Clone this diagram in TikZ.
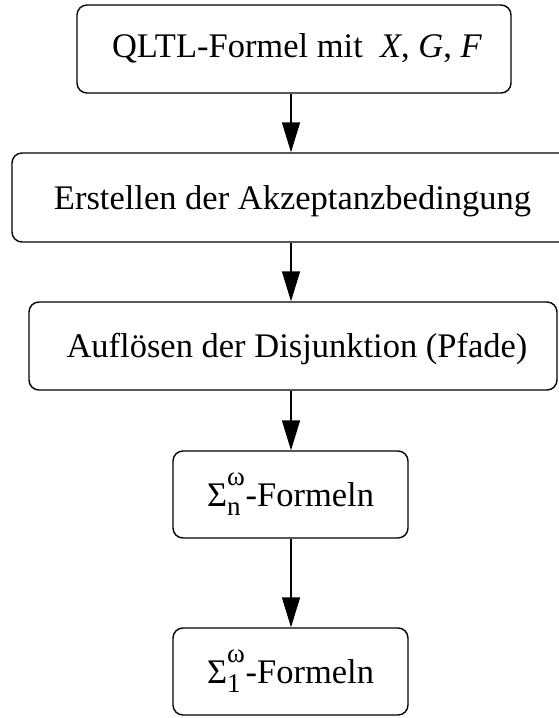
\documentclass[tikz,border=0pt]{standalone}
\usepackage{fontspec}
\setmainfont{Liberation Serif}
\usetikzlibrary{arrows.meta}
% Sigma with a raised omega and a lowered index
\newcommand{\sigmaidx}[1]{Σ\rlap{\smash{\raisebox{21pt}{\fontsize{27}{29}\selectfont ω}}}\smash{\raisebox{-9pt}{\fontsize{27}{29}\selectfont #1}}\hspace*{5pt}}
\begin{document}
\begin{tikzpicture}[x=1pt,y=-1pt,
  stage/.style={draw, line width=1.4pt, rounded corners=10pt, inner sep=0pt,
    text height=23pt, text depth=0pt,
    font=\fontsize{34.5}{38}\selectfont},
  flow/.style={line width=1.4pt, -{Triangle[length=30pt,width=18pt]}}]
\useasboundingbox (0,0) rectangle (559,718);
\begin{scope}
\clip (0,0) rectangle (559,718);
\node[stage, minimum width=434pt, minimum height=88pt] (b1) at (294,49)
  {\hspace*{6pt}\raisebox{3pt}{QLTL-Formel mit \ \textit{X}, \textit{G}, \textit{F}}};
\node[stage, minimum width=563pt, minimum height=89pt] (b2) at (293.5,197.5)
  {\hspace*{-2pt}Erstellen der Akzeptanzbedingung};
\node[stage, minimum width=528pt, minimum height=88pt] (b3) at (293,346)
  {\hspace*{8pt}Auflösen der Disjunktion (Pfade)};
\node[stage, minimum width=235pt, minimum height=87pt] (b4) at (290.5,494.5)
  {\sigmaidx{n}-Formeln};
\node[stage, minimum width=235pt, minimum height=87pt] (b5) at (290.5,671.5)
  {\sigmaidx{1}-Formeln};
\end{scope}
\coordinate (axis) at (291,0);
\draw[flow] (b1.south -| axis) -- (b2.north -| axis);
\draw[flow] (b2.south -| axis) -- (b3.north -| axis);
\draw[flow] (b3.south -| axis) -- (b4.north -| axis);
\draw[flow] (b4.south -| axis) -- (b5.north -| axis);
\end{tikzpicture}
\end{document}
